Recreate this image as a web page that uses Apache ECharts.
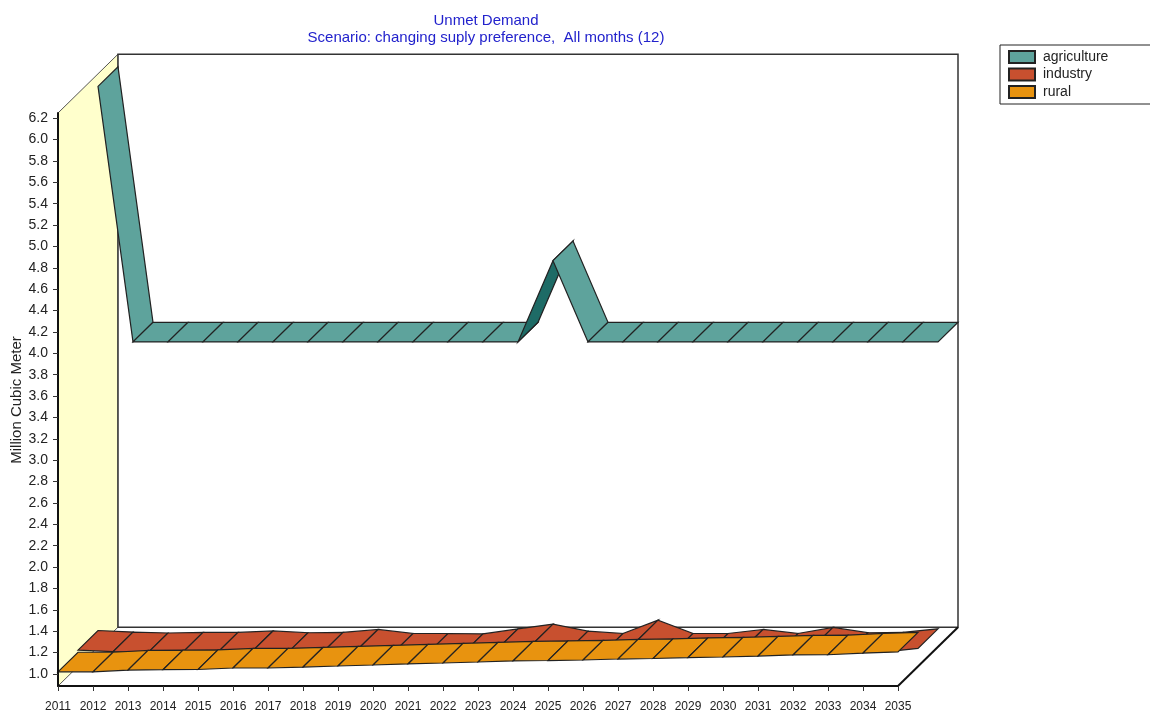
<!DOCTYPE html>
<html>
<head>
<meta charset="utf-8">
<style>html,body{margin:0;padding:0;background:#fff}#chart{width:1150px;height:713px}</style>
<script src="https://cdn.jsdelivr.net/npm/echarts@6/dist/echarts.min.js"></script>
</head>
<body>
<div id="chart"></div>
<script>
const years = ['2011','2012','2013','2014','2015','2016','2017','2018','2019','2020','2021','2022','2023','2024','2025','2026','2027','2028','2029','2030','2031','2032','2033','2034','2035']
const agriculture = [6.13,3.74,3.74,3.74,3.74,3.74,3.74,3.74,3.74,3.74,3.74,3.74,3.74,4.5,3.74,3.74,3.74,3.74,3.74,3.74,3.74,3.74,3.74,3.74,3.74]
const industry = [1.04,1.025,1.017,1.022,1.022,1.036,1.019,1.022,1.05,1.012,1.012,1.008,1.055,1.10,1.034,1.012,1.137,1.012,1.012,1.05,1.012,1.069,1.019,1.022,1.056]
const rural = [1.02,1.02,1.037,1.04,1.042,1.056,1.056,1.065,1.075,1.084,1.094,1.103,1.112,1.122,1.126,1.131,1.14,1.145,1.154,1.159,1.168,1.178,1.18,1.196,1.206]
const yTicks = [1.0,1.2,1.4,1.6,1.8,2.0,2.2,2.4,2.6,2.8,3.0,3.2,3.4,3.6,3.8,4.0,4.2,4.4,4.6,4.8,5.0,5.2,5.4,5.6,5.8,6.0,6.2]

// depth of one ribbon row in pixels, the chart is three rows deep
const rowX = 20
const rowY = 19.6
const yMin = 0.8877
const yMax = 6.248

const chart = echarts.init(document.getElementById('chart'))

function ribbon(name, values, row, color, dark) {
  return {
    name: name,
    type: 'custom',
    clip: false,
    z: 3 + (2 - row),
    itemStyle: { color: color, borderColor: '#222', borderWidth: 1 },
    encode: { x: 0, y: 1 },
    data: values.slice(0, -1).map((v, i) => [i, v, values[i + 1]]),
    renderItem: function (params, api) {
      const i = api.value(0)
      const a = api.coord([i, api.value(1)])
      const b = api.coord([i + 1, api.value(2)])
      const f0 = row * rowX, f1 = f0 + rowX
      const g0 = row * rowY, g1 = g0 + rowY
      // steep rises turn the ribbon over, so its underside shows
      const rise = a[1] - b[1]
      const under = (b[0] - a[0]) * rowY < rise * rowX
      return {
        type: 'polygon',
        shape: { points: [
          [a[0] + f0, a[1] - g0], [b[0] + f0, b[1] - g0],
          [b[0] + f1, b[1] - g1], [a[0] + f1, a[1] - g1]
        ] },
        style: { fill: under ? dark : color, stroke: '#222', lineWidth: 1.2 }
      }
    }
  }
}

// left wall, back wall and floor edges
const walls = {
  type: 'custom',
  clip: false,
  z: 2,
  silent: true,
  data: [[0]],
  renderItem: function (params, api) {
    const tl = api.coord([0, yMax])
    const bl = api.coord([0, yMin])
    const br = api.coord([years.length - 1, yMin])
    const dx = rowX * 3, dy = rowY * 3
    const back = p => [p[0] + dx, p[1] - dy]
    const tr = [br[0], tl[1]]
    return {
      type: 'group',
      children: [
        { type: 'polygon', shape: { points: [tl, back(tl), back(bl), bl] },
          style: { fill: '#FFFFCC', stroke: '#555', lineWidth: 1 } },
        { type: 'polygon', shape: { points: [back(tl), back(tr), back(br), back(bl)] },
          style: { fill: '#fff', stroke: '#333', lineWidth: 1.5 } },
        { type: 'line', shape: { x1: br[0], y1: br[1], x2: br[0] + dx, y2: br[1] - dy },
          style: { stroke: '#111', lineWidth: 2 } }
      ]
    }
  }
}

chart.setOption({
  animation: false,
  backgroundColor: '#fff',
  title: {
    text: 'Unmet Demand',
    subtext: 'Scenario: changing suply preference,  All months (12)',
    left: 486,
    top: 13,
    textAlign: 'center',
    itemGap: 2,
    padding: 0,
    textStyle: { color: '#2222CC', fontSize: 15, fontWeight: 'normal', fontFamily: 'Liberation Sans' },
    subtextStyle: { color: '#2222CC', fontSize: 15, fontFamily: 'Liberation Sans' }
  },
  legend: {
    orient: 'vertical',
    left: 1000,
    top: 45,
    padding: [5, 60, 5, 8],
    itemGap: 3.5,
    itemWidth: 26,
    itemHeight: 12,
    icon: 'rect',
    selectedMode: false,
    borderColor: '#222',
    borderWidth: 1,
    data: ['agriculture', 'industry', 'rural'],
    textStyle: { color: '#222', fontSize: 14, fontFamily: 'Liberation Sans', padding: [0, 0, 0, 3] }
  },
  // the axis name kept moving away from the labels, so it sits here instead
  graphic: [{
    type: 'text',
    x: 17,
    y: 400,
    rotation: Math.PI / 2,
    style: {
      text: 'Million Cubic Meter',
      fill: '#222',
      fontSize: 15,
      fontFamily: 'Liberation Sans',
      align: 'center',
      verticalAlign: 'middle'
    }
  }],
  grid: { left: 58, top: 113, width: 840, height: 573, outerBoundsMode: 'none' },
  xAxis: {
    type: 'category',
    data: years,
    boundaryGap: false,
    z: 10,
    axisLine: { lineStyle: { color: '#111', width: 2 } },
    axisTick: { length: 5, alignWithLabel: true, lineStyle: { color: '#333' } },
    axisLabel: { interval: 0, color: '#222', fontSize: 12, fontFamily: 'Liberation Sans', margin: 15 },
    splitLine: { show: false }
  },
  yAxis: {
    type: 'value',
    min: yMin,
    max: yMax,
    z: 10,
    axisLine: { show: true, lineStyle: { color: '#111', width: 2 } },
    axisTick: { show: true, length: 5, customValues: yTicks, lineStyle: { color: '#333' } },
    axisLabel: {
      color: '#222', fontSize: 14, fontFamily: 'Liberation Sans', margin: 10,
      customValues: yTicks,
      formatter: v => v.toFixed(1)
    },
    splitLine: { show: false }
  },
  series: [
    walls,
    ribbon('agriculture', agriculture, 2, '#5EA39C', '#1E6B66'),
    ribbon('industry', industry, 1, '#C8502F', '#8E3519'),
    ribbon('rural', rural, 0, '#E8930F', '#A86A08')
  ]
})
</script>
</body>
</html>
